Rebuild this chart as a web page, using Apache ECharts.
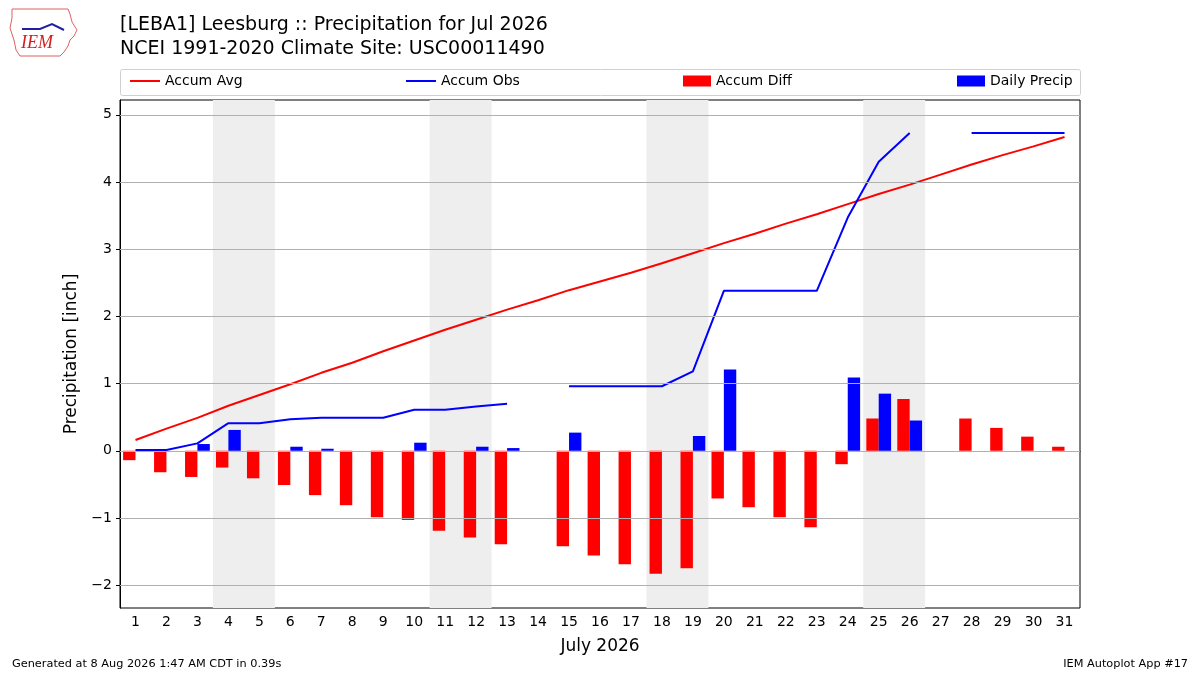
<!DOCTYPE html>
<html>
<head>
<meta charset="utf-8">
<script src="https://cdn.jsdelivr.net/npm/echarts@6/dist/echarts.min.js"></script>
<style>
    html, body { margin: 0; padding: 0; background: #fff; }
    #chart { width: 1200px; height: 675px; }
</style>
</head>
<body>
<div id="chart"></div>
<script>
const days = ["1", "2", "3", "4", "5", "6", "7", "8", "9", "10", "11", "12", "13", "14", "15", "16",
    "17", "18", "19", "20", "21", "22", "23", "24", "25", "26", "27", "28", "29", "30", "31"];

const accumAvg = [0.16, 0.33, 0.49, 0.67, 0.83, 0.99, 1.16, 1.31, 1.48, 1.64, 1.80, 1.95, 2.10, 2.24, 2.39, 2.52,
    2.65, 2.79, 2.94, 3.09, 3.23, 3.38, 3.52, 3.67, 3.82, 3.96, 4.11, 4.26, 4.40, 4.53, 4.67];

const accumObs = [0.01, 0.01, 0.11, 0.41, 0.41, 0.47, 0.49, 0.49, 0.49, 0.61, 0.61, 0.66, 0.70, null, 0.96, 0.96,
    0.96, 0.96, 1.18, 2.38, 2.38, 2.38, 2.38, 3.47, 4.30, 4.73, null, 4.73, 4.73, 4.73, 4.73];

const accumDiff = [-0.14, -0.32, -0.39, -0.25, -0.41, -0.51, -0.66, -0.81, -0.99, -1.03, -1.19, -1.29, -1.39, null, -1.42, -1.56,
    -1.69, -1.83, -1.75, -0.71, -0.84, -0.99, -1.14, -0.20, 0.48, 0.77, null, 0.48, 0.34, 0.21, 0.06];

const dailyPrecip = [0, 0, 0.10, 0.31, 0, 0.06, 0.03, 0, 0, 0.12, 0, 0.06, 0.04, null, 0.27, 0,
    0, 0, 0.22, 1.21, 0, 0, 0, 1.09, 0.85, 0.45, null, 0, 0, 0, 0];

// weekend bands, in day units
const weekends = [[3.5, 5.5], [10.5, 12.5], [17.5, 19.5], [24.5, 26.5]];
const yTicks = [-2, -1, 0, 1, 2, 3, 4, 5];

const FONT = "DejaVu Sans";

const chart = echarts.init(document.getElementById("chart"));

const legendBase = {
    top: 69,
    itemGap: 0,
    textStyle: { fontFamily: FONT, fontSize: 14, color: "#000" },
    selectedMode: false,
};

const option = {
    animation: false,
    title: {
        text: "[LEBA1] Leesburg :: Precipitation for Jul 2026\nNCEI 1991-2020 Climate Site: USC00011490",
        left: 115,
        top: 8,
        textStyle: { fontFamily: FONT, fontSize: 19, fontWeight: "normal", color: "#000", lineHeight: 24 },
    },
    legend: [
        Object.assign({}, legendBase, {
            left: 125, data: ["Accum Avg"], icon: "rect", itemWidth: 30, itemHeight: 2,
        }),
        Object.assign({}, legendBase, {
            left: 401, data: ["Accum Obs"], icon: "rect", itemWidth: 30, itemHeight: 2,
        }),
        Object.assign({}, legendBase, {
            left: 678, data: ["Accum Diff"], icon: "rect", itemWidth: 28, itemHeight: 11,
        }),
        Object.assign({}, legendBase, {
            left: 952, data: ["Daily Precip"], icon: "rect", itemWidth: 28, itemHeight: 11,
        }),
    ],
    grid: {
        left: 120,
        right: 120,
        top: 100,
        bottom: 67,
        show: true,
        borderColor: "#000",
        borderWidth: 1,
        backgroundColor: "transparent",
    },
    xAxis: [
        {
            type: "category",
            data: days,
            boundaryGap: true,
            name: "July 2026",
            nameLocation: "middle",
            nameGap: 30,
            nameTextStyle: { fontFamily: FONT, fontSize: 17, color: "#000" },
            axisLine: { lineStyle: { color: "#000" } },
            axisTick: { alignWithLabel: true, length: 4, lineStyle: { color: "#000" } },
            axisLabel: { fontFamily: FONT, fontSize: 14, color: "#000", margin: 7, interval: 0 },
            splitLine: { show: false },
        },
        {
            type: "value",
            min: 0.5,
            max: 31.5,
            show: false,
        },
    ],
    yAxis: {
        type: "value",
        min: -2.34,
        max: 5.22,
        name: "Precipitation [inch]",
        nameLocation: "middle",
        nameGap: 37,
        nameTextStyle: { fontFamily: FONT, fontSize: 17, color: "#000" },
        axisLine: { show: true, lineStyle: { color: "#000" } },
        axisTick: { show: true, length: 4, customValues: yTicks, lineStyle: { color: "#000" } },
        axisLabel: {
            fontFamily: FONT, fontSize: 14, color: "#000", margin: 8,
            customValues: yTicks,
            formatter: v => (v < 0 ? "\u2212" + Math.abs(v) : String(v)),
        },
        splitLine: { show: false },
    },
    graphic: [
        {
            type: "rect",
            left: 120, top: 69,
            shape: { width: 960, height: 26, r: 2 },
            style: { fill: "rgba(255,255,255,0.8)", stroke: "#d0d0d0", lineWidth: 1 },
            z: -1,
        },
        {
            type: "polyline",
            shape: {
                points: [[12, 9], [68, 9], [70, 14], [72, 22], [77, 30], [74, 36], [70, 40], [68, 46],
                    [64, 52], [60, 56], [20, 56], [16, 50], [14, 40], [10, 28], [12, 18], [12, 9]],
            },
            style: { stroke: "#e06060", fill: "none", lineWidth: 1 },
        },
        {
            type: "polyline",
            shape: { points: [[22, 29], [40, 29], [52, 24], [64, 30]] },
            style: { stroke: "#2020a0", fill: "none", lineWidth: 2 },
        },
        {
            type: "text",
            left: 21, top: 34,
            style: { text: "IEM", fill: "#d02020", fontFamily: "Liberation Serif", fontStyle: "italic", fontSize: 18 },
        },
        {
            type: "text",
            left: 12, top: 659,
            style: { text: "Generated at 8 Aug 2026 1:47 AM CDT in 0.39s", fill: "#000", fontFamily: FONT, fontSize: 11.3 },
        },
        {
            type: "text",
            right: 12, top: 659,
            style: { text: "IEM Autoplot App #17", fill: "#000", fontFamily: FONT, fontSize: 11.3 },
        },
    ],
    series: [
        {
            // weekend shading and grid lines
            name: "bg",
            type: "line",
            xAxisIndex: 1,
            data: [],
            silent: true,
            z: 0,
            markArea: {
                silent: true,
                itemStyle: { color: "#eeeeee" },
                data: weekends.map(w => [{ xAxis: w[0] }, { xAxis: w[1] }]),
            },
            markLine: {
                silent: true,
                symbol: "none",
                label: { show: false },
                lineStyle: { color: "#b0b0b0", type: "solid", width: 1 },
                data: yTicks.map(v => ({ yAxis: v })),
            },
        },
        {
            name: "Accum Diff",
            type: "bar",
            data: accumDiff,
            barWidth: "40%",
            barGap: "0%",
            itemStyle: { color: "#ff0000" },
            z: 2,
        },
        {
            name: "Daily Precip",
            type: "bar",
            data: dailyPrecip,
            barWidth: "40%",
            barGap: "0%",
            itemStyle: { color: "#0000ff" },
            z: 2,
        },
        {
            name: "Accum Avg",
            type: "line",
            data: accumAvg,
            symbol: "none",
            lineStyle: { color: "#ff0000", width: 2 },
            itemStyle: { color: "#ff0000" },
            z: 3,
        },
        {
            name: "Accum Obs",
            type: "line",
            data: accumObs,
            symbol: "none",
            connectNulls: false,
            lineStyle: { color: "#0000ff", width: 2 },
            itemStyle: { color: "#0000ff" },
            z: 3,
        },
    ],
};

chart.setOption(option);
</script>
</body>
</html>
